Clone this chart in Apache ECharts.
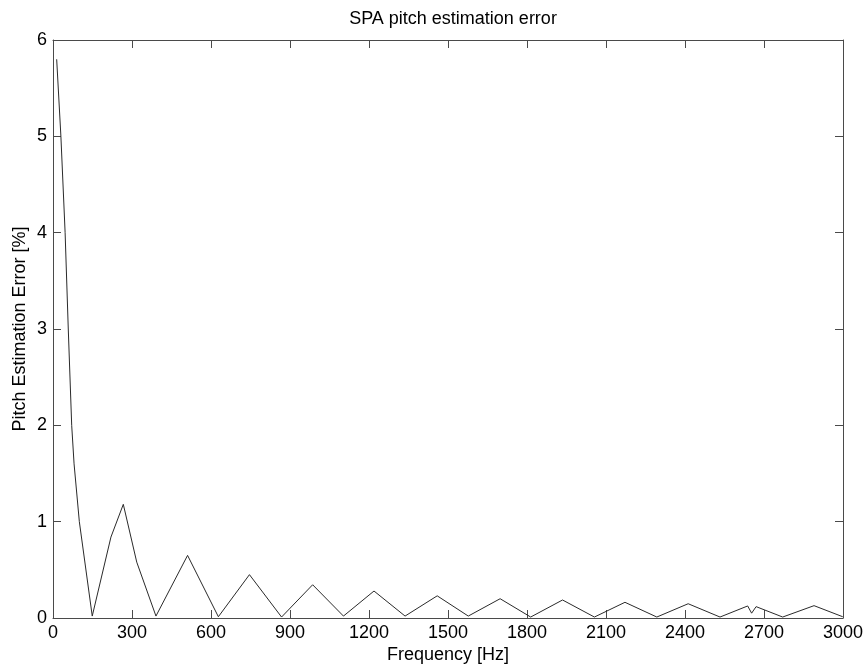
<!DOCTYPE html>
<html>
<head>
<meta charset="utf-8">
<script src="https://cdn.jsdelivr.net/npm/echarts@6/dist/echarts.min.js"></script>
<style>
  html, body { margin: 0; padding: 0; background: #ffffff; }
  #chart { width: 864px; height: 669px; }
</style>
</head>
<body>
<div id="chart"></div>
<script>
// Pitch estimation error of the SPA method versus frequency
const frequencies = [14, 30, 46, 58, 71, 80, 100, 149, 220, 267, 318, 391, 511, 628, 746, 868, 986, 1103,
  1219, 1337, 1459, 1577, 1698, 1814, 1935, 2056, 2172, 2293, 2412, 2533, 2638, 2653, 2670, 2771, 2890, 2999];
const errorPercent = [5.80, 5.00, 4.00, 3.00, 2.00, 1.60, 1.00, 0.02, 0.84, 1.18, 0.58, 0.02, 0.65, 0.013, 0.45, 0.01, 0.345, 0.02,
  0.28, 0.02, 0.23, 0.02, 0.20, 0.01, 0.187, 0.01, 0.163, 0.01, 0.148, 0.01, 0.125, 0.05, 0.118, 0.01, 0.128, 0.013];
const xTicks = [0, 300, 600, 900, 1200, 1500, 1800, 2100, 2400, 2700, 3000];
const yTicks = [0, 1, 2, 3, 4, 5, 6];

const points = frequencies.map((f, i) => [f, errorPercent[i]]);

const FONT = 'Liberation Sans, Arial, sans-serif';
const axisColor = '#4a4a4a';

const chart = echarts.init(document.getElementById('chart'), null, { renderer: 'canvas' });

const baseX = {
  type: 'value',
  min: xTicks[0],
  max: xTicks[xTicks.length - 1],
  interval: xTicks[1] - xTicks[0],
  splitLine: { show: false },
  axisLine: { show: true, onZero: false, lineStyle: { color: axisColor, width: 1 } },
  axisTick: { show: true, inside: true, length: 8, lineStyle: { color: axisColor } }
};
const baseY = {
  type: 'value',
  min: yTicks[0],
  max: yTicks[yTicks.length - 1],
  interval: yTicks[1] - yTicks[0],
  splitLine: { show: false },
  axisLine: { show: true, onZero: false, lineStyle: { color: axisColor, width: 1 } },
  axisTick: { show: true, inside: true, length: 8, lineStyle: { color: axisColor } }
};

chart.setOption({
  animation: false,
  backgroundColor: '#ffffff',
  title: {
    text: 'SPA pitch estimation error',
    left: 448,
    top: 5,
    textAlign: 'center',
    textStyle: { fontFamily: FONT, fontSize: 18, fontWeight: 'normal', color: '#000' }
  },
  grid: { left: 53, right: 21, top: 40, bottom: 51, outerBoundsMode: 'none' },
  xAxis: [
    Object.assign({}, baseX, {
      position: 'bottom',
      name: 'Frequency [Hz]',
      nameLocation: 'middle',
      nameGap: 28,
      nameMoveOverlap: false,
      nameTextStyle: { fontFamily: FONT, fontSize: 18, color: '#000' },
      axisLabel: {
        show: true, margin: 6, fontFamily: FONT, fontSize: 18, color: '#000',
        formatter: v => String(v)
      }
    }),
    Object.assign({}, baseX, { position: 'top', axisLabel: { show: false } })
  ],
  yAxis: [
    Object.assign({}, baseY, {
      position: 'left',
      name: 'Pitch Estimation Error [%]',
      nameLocation: 'middle',
      nameGap: 24,
      nameMoveOverlap: false,
      nameTextStyle: { fontFamily: FONT, fontSize: 18, color: '#000' },
      axisLabel: { show: true, margin: 6, fontFamily: FONT, fontSize: 18, color: '#000' }
    }),
    Object.assign({}, baseY, { position: 'right', axisLabel: { show: false } })
  ],
  series: [{
    type: 'line',
    data: points,
    xAxisIndex: 0,
    yAxisIndex: 0,
    showSymbol: false,
    symbol: 'none',
    lineStyle: { color: '#2a2a2a', width: 1 }
  }]
});
</script>
</body>
</html>
